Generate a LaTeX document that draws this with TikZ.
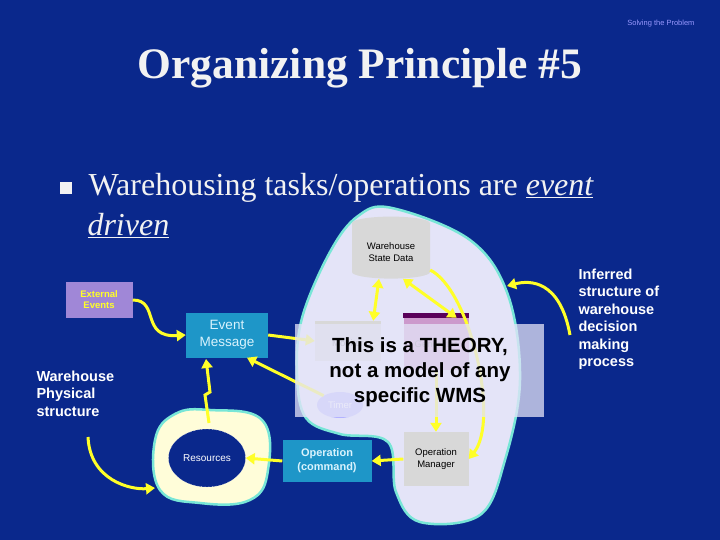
\documentclass[tikz,border=0pt]{standalone}
\usepackage{fontspec}
\setsansfont{Liberation Sans}
\setmainfont{Liberation Serif}
\usetikzlibrary{shapes.geometric,arrows.meta}
\definecolor{bg}{RGB}{10,40,140}
\definecolor{teal1}{RGB}{30,150,200}
\definecolor{lav}{RGB}{228,228,248}
\definecolor{cyanb}{RGB}{120,230,215}
\definecolor{yel}{RGB}{255,255,40}
\definecolor{grey1}{RGB}{216,216,216}
\definecolor{extc}{RGB}{160,135,215}
\begin{document}
\begin{tikzpicture}[x=1pt,y=-1pt,
  arr/.style={draw=yel,line width=3pt,-{Triangle[length=9pt,width=11pt]}},
  darr/.style={draw=yel,line width=3pt,{Triangle[length=9pt,width=11pt]}-{Triangle[length=9pt,width=11pt]}},
  tealbox/.style={fill=teal1,font=\sffamily\fontsize{10}{12}\selectfont,text=white!85!cyan,align=center,inner sep=2pt},
  greybox/.style={fill=grey1,font=\sffamily\fontsize{9.5}{12}\selectfont,align=center,inner sep=2pt},
  side/.style={font=\sffamily\bfseries\fontsize{14.5}{17.5}\selectfont,text=white,align=left}]
\useasboundingbox (0,0) rectangle (720,540);
\fill[bg] (0,0) rectangle (720,540);
\node[font=\sffamily\fontsize{7.5}{9}\selectfont,text=blue!40!white,anchor=east] (sub) at (698,24) {Solving the Problem};
\node[font=\bfseries\fontsize{43.5}{50}\selectfont,text=white!90!gray] (title) at (360,68) {Organizing Principle \#5};
\fill[white!90!gray] (60,182) rectangle (72,194);
\node[font=\fontsize{32}{38}\selectfont,text=white!90!gray,anchor=west] (b1) at (85,188) {Warehousing tasks/operations are \underline{\itshape event}};
\node[font=\fontsize{32}{38}\selectfont,text=white!90!gray,anchor=west] (b2) at (84,226) {\underline{\itshape driven}};
% big blob
\draw[fill=lav,draw=cyanb,line width=2.5pt] plot[smooth cycle,tension=0.6] coordinates {(392,208) (470,240) (508,295) (520,380) (505,460) (480,515) (420,522) (396,492) (388,442) (340,434) (306,418) (297,375) (302,318) (330,252) (358,216)};
% resources blob
\draw[fill=yellow!15!white,draw=cyanb,line width=2.5pt] plot[smooth cycle,tension=0.7] coordinates {(210,410) (262,420) (268,470) (250,500) (200,503) (160,490) (155,440) (175,414)};
\node[ellipse,fill=bg,draw=white,densely dotted,minimum width=72pt,minimum height=58pt,font=\sffamily\fontsize{10}{12}\selectfont,text=white] (res) at (207,458) {Resources};
% cylinder
\node[cylinder,shape border rotate=90,aspect=0.25,fill=grey1,minimum width=78pt,minimum height=62pt,greybox] (wsd) at (391,252) {Warehouse\\State Data};
% monitor, generator, timer (hidden below the overlay)
\node[greybox,minimum width=66pt,minimum height=40pt,text=gray] (mon) at (348,341) {\\Monitor};
\node[fill=violet!40!white,minimum width=65pt,minimum height=52pt,font=\sffamily\fontsize{9.5}{11}\selectfont,text=gray,align=center] (gen) at (436,344) {Generator};
\fill[violet!70!black] (gen.north west) rectangle ([yshift=5pt]gen.north east);
\node[ellipse,fill=blue!30!white,minimum width=46pt,minimum height=26pt,font=\sffamily\fontsize{9.5}{11}\selectfont,text=white] (tim) at (340,405) {Timer};
\node[greybox,minimum width=65pt,minimum height=54pt] (om) at (436,459) {Operation\\Manager};
\node[tealbox,minimum width=89pt,minimum height=42pt,font=\sffamily\bfseries\fontsize{11}{14}\selectfont] (op) at (327,461) {Operation\\(command)};
\node[tealbox,minimum width=82pt,minimum height=45pt,font=\sffamily\fontsize{13.5}{17}\selectfont] (em) at (227,335) {Event\\Message};
\node[fill=extc,minimum width=67pt,minimum height=36pt,font=\sffamily\bfseries\fontsize{9.5}{11}\selectfont,text=yel,align=center] (ext) at (99,300) {External\\Events};
\node[side,anchor=north west] (wps) at (33,367) {Warehouse\\Physical\\structure};
\node[side,anchor=north west] (inf) at (575,265) {Inferred\\structure of\\warehouse\\decision\\making\\process};
% arrows
\draw[arr] (ext.east) .. controls (160,300) and (140,338) .. (em.west);
\draw[arr] (88,437) .. controls (90,480) and (130,490) .. (155,488);
\draw[arr] (209,423) -- (205,395) -- (210,392) -- (206,359);
\draw[arr] (em.east) -- (mon.west);
\draw[arr] (tim.north west) -- ([xshift=20pt]em.south);
\draw[darr] (wsd.south) ++(-12,0) -- ([xshift=-8pt]mon.north east);
\draw[darr] (wsd.south) ++(12,0) -- ([xshift=-12pt]gen.north east);
\draw[arr] (wsd.east) ++(0,18) .. controls (470,290) and (500,420) .. (om.east);
\draw[arr] (gen.south) -- (om.north);
\draw[arr] (om.west) -- (op.east);
\draw[arr] (op.west) -- (res.east);
\draw[arr] (570,335) .. controls (560,280) and (530,280) .. (507,286);
% overlay
\fill[lav,opacity=0.75] (295,324) rectangle (544,417);
\node[font=\sffamily\bfseries\fontsize{20.5}{25}\selectfont,align=center] (th) at (420,372) {This is a THEORY,\\not a model of any\\specific WMS};
\end{tikzpicture}
\end{document}
